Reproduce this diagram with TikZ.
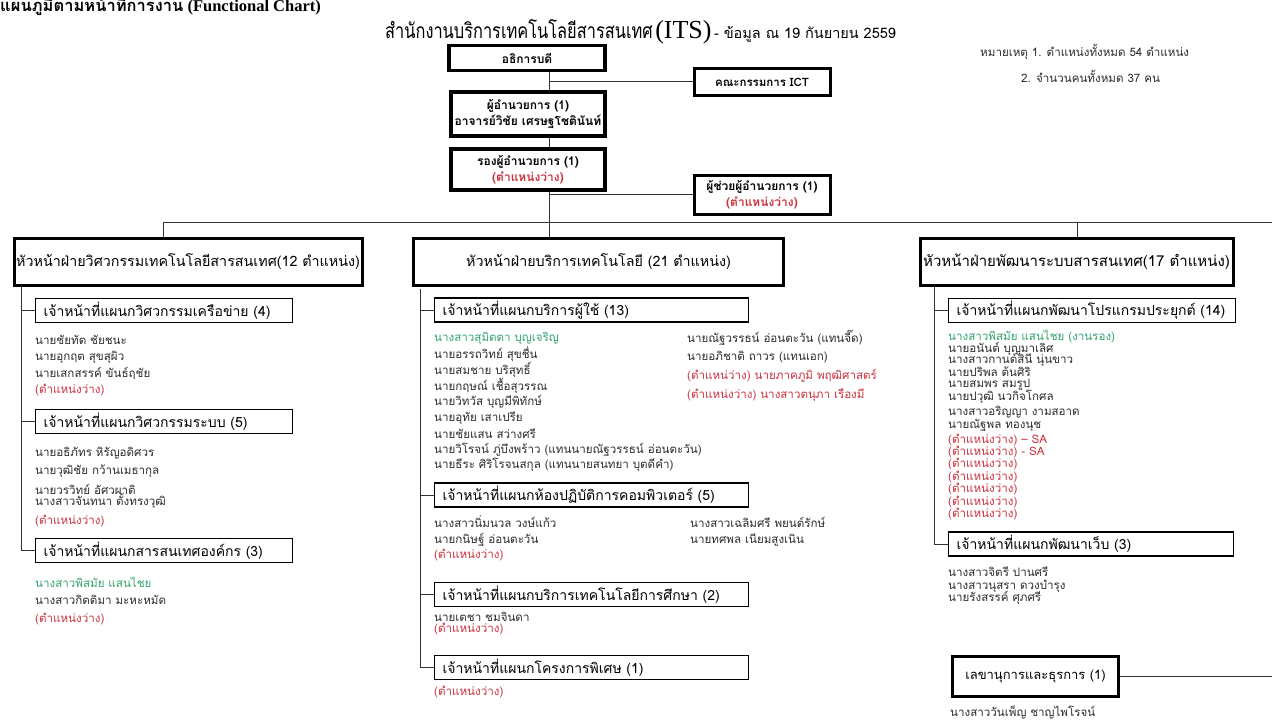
\documentclass[tikz,border=0pt]{standalone}
\usepackage{fontspec}
\setmainfont{Liberation Serif}
\newfontfamily\thaifont[Script=Thai]{Loma}
\newfontfamily\thaicond[Script=Thai,FakeStretch=0.78]{Loma}
\usepackage{xcolor}
\definecolor{vacant}{RGB}{204,51,63}
\definecolor{lead}{RGB}{52,165,110}
\definecolor{ink}{RGB}{45,45,45}

\begin{document}
\begin{tikzpicture}[x=1pt,y=-1pt]
	\tikzstyle{bigbox} = [draw=black, line width=3.5pt, fill=white, inner sep=0pt, align=center, font=\thaifont\bfseries\fontsize{12}{16}\selectfont]
	\tikzstyle{headbox} = [draw=black, line width=3pt, fill=white, inner sep=0pt, minimum height=47, font=\thaifont\fontsize{14.3}{18}\selectfont]
	\tikzstyle{subbox} = [draw=black, line width=1.1pt, fill=white, anchor=west, minimum height=24, inner xsep=8pt, inner ysep=0pt, align=left, font=\thaifont\fontsize{14}{16}\selectfont]
	\tikzstyle{person} = [anchor=west, inner sep=0pt, text=ink, font=\thaifont\fontsize{11.6}{13}\selectfont]
	\tikzstyle{wire} = [draw=black!80, line width=1pt]
	\useasboundingbox[fill=white] (0,0) rectangle (1272,722);
		\node[anchor=west, inner sep=0pt, font=\fontsize{16.5}{18}\selectfont\bfseries] (chart) at (0,5) {{\thaifont แผนภูมิตามหน้าที่การงาน} (Functional Chart)};
		\node[anchor=base west, inner sep=0pt] (its) at (385,39) {{\thaicond\fontsize{21}{26}\selectfont สำนักงานบริการเทคโนโลยีสารสนเทศ} {\fontsize{26}{28}\selectfont (ITS)} {\thaifont\fontsize{14.5}{16}\selectfont - ข้อมูล ณ 19 กันยายน 2559}};
		\node[person] (note1) at (980,52) {หมายเหตุ 1. ตำแหน่งทั้งหมด 54 ตำแหน่ง};
		\node[person] (note2) at (1021,76) {2. จำนวนคนทั้งหมด 37 คน};
	\coordinate (tTop) at (549,72);
	\coordinate (tBot) at (549,237);
	\draw[wire] (tTop) -- (tBot);
		\node[bigbox, minimum width=156, minimum height=25] (rector) at (527,58) {อธิการบดี};
		\node[bigbox, line width=3pt, minimum width=136, minimum height=27, font=\thaifont\bfseries\fontsize{11.5}{13}\selectfont] (ict) at (762,82) {คณะกรรมการ ICT};
		\node[bigbox, minimum width=154, minimum height=44] (dir) at (528,114) {ผู้อำนวยการ (1)\\อาจารย์วิชัย เศรษฐโชตินันท์};
		\node[bigbox, minimum width=154, minimum height=41] (vdir) at (528,169.5) {รองผู้อำนวยการ (1)\\{\color{vacant}(ตำแหน่งว่าง)}};
		\node[bigbox, line width=3pt, minimum width=136, minimum height=39] (adir) at (762,195) {ผู้ช่วยผู้อำนวยการ (1)\\{\color{vacant}(ตำแหน่งว่าง)}};
	\draw[wire] (ict.west) -- (ict.west -| tTop);
	\draw[wire] (adir.west) -- (adir.west -| tTop);
	\coordinate (busL) at (163,223);
	\coordinate (busR) at (1272,223);
	\coordinate (dropC) at (1077,223);
	\draw[wire] (busL) -- (busR);
		\node[headbox, minimum width=348] (hA) at (188,262) {หัวหน้าฝ่ายวิศวกรรมเทคโนโลยีสารสนเทศ(12 ตำแหน่ง)};
		\node[headbox, minimum width=370] (hB) at (598.5,262) {หัวหน้าฝ่ายบริการเทคโนโลยี (21 ตำแหน่ง)};
		\node[headbox, minimum width=313, font=\thaifont\fontsize{15}{18}\selectfont] (hC) at (1076.5,262) {หัวหน้าฝ่ายพัฒนาระบบสารสนเทศ(17 ตำแหน่ง)};
	\draw[wire] (busL) -- (busL |- hA.north);
	\draw[wire] (dropC) -- (dropC |- hC.north);

		\node[subbox, text width=241] (sA1) at (35,310.5) {เจ้าหน้าที่แผนกวิศวกรรมเครือข่าย (4)};
		\node[subbox, text width=241] (sA2) at (35,421.5) {เจ้าหน้าที่แผนกวิศวกรรมระบบ (5)};
		\node[subbox, text width=241] (sA3) at (35,550.5) {เจ้าหน้าที่แผนกสารสนเทศองค์กร (3)};
	\coordinate (vA) at (21,287);
	\draw[wire] (vA) |- (sA3.west);
	\draw[wire] (sA1.west) -- (sA1.west -| vA);
	\draw[wire] (sA2.west) -- (sA2.west -| vA);
	\foreach \yy/\txt [count=\i] in {340/นายชัยทัต ชัยชนะ, 357/นายอุกฤต สุขสุผิว, 373/นายเสกสรรค์ ขันธ์ฤชัย}
		\node[person] (a1n\i) at (35,\yy) {\txt};
		\node[person, text=vacant] (a1v) at (35,390) {(ตำแหน่งว่าง)};
	\foreach \yy/\txt [count=\i] in {453/นายอธิภัทร หิรัญอดิศวร, 471/นายวุฒิชัย กว้านเมธากุล, 489/นายวรวิทย์ อัศวผาติ, 501/นางสาวจันทนา ตั้งทรงวุฒิ}
		\node[person] (a2n\i) at (35,\yy) {\txt};
		\node[person, text=vacant] (a2v) at (35,521) {(ตำแหน่งว่าง)};
		\node[person, text=lead] (a3n1) at (35,582) {นางสาวพิสมัย แสนไชย};
		\node[person] (a3n2) at (35,600) {นางสาวกิตติมา มะหะหมัด};
		\node[person, text=vacant] (a3v) at (35,619) {(ตำแหน่งว่าง)};

		\node[subbox, text width=298] (sB1) at (434,310) {เจ้าหน้าที่แผนกบริการผู้ใช้ (13)};
		\node[subbox, text width=298] (sB2) at (434,495) {เจ้าหน้าที่แผนกห้องปฏิบัติการคอมพิวเตอร์ (5)};
		\node[subbox, text width=298] (sB3) at (434,594.5) {เจ้าหน้าที่แผนกบริการเทคโนโลยีการศึกษา (2)};
		\node[subbox, text width=298] (sB4) at (434,667.5) {เจ้าหน้าที่แผนกโครงการพิเศษ (1)};
	\coordinate (vB) at (420,289);
	\draw[wire] (vB) |- (sB4.west);
	\foreach \s in {sB1,sB2,sB3}
		\draw[wire] (\s.west) -- (\s.west -| vB);
		\node[person, text=lead] (b1n1) at (434,338) {นางสาวสุมิตตา บุญเจริญ};
	\foreach \yy/\txt [count=\i from 2] in {354/นายอรรถวิทย์ สุขชื่น, 370/นายสมชาย บริสุทธิ์, 386/นายกฤษณ์  เชื้อสุวรรณ, 402/นายวิทวัส บุญมีพิทักษ์, 418/นายอุทัย เสาเปรีย, 434/นายชัยแสน สว่างศรี, 450/นายวิโรจน์ ภู่บึงพร้าว (แทนนายณัฐวรรธน์ อ่อนตะวัน), 465/นายธีระ ศิริโรจนสกุล  (แทนนายสนทยา บุตดีคำ)}
		\node[person] (b1n\i) at (434,\yy) {\txt};
		\node[person] (b1r1) at (687,338) {นายณัฐวรรธน์ อ่อนตะวัน (แทนจี๊ด)};
		\node[person] (b1r2) at (687,357) {นายอภิชาติ ถาวร (แทนเอก)};
		\node[person, text=vacant] (b1r3) at (687,376) {(ตำแหน่ว่าง) นายภาคภูมิ พฤฒิศาสตร์};
		\node[person, text=vacant] (b1r4) at (687,395) {(ตำแหน่งว่าง) นางสาวตนุภา เรืองมี};
		\node[person] (b2n1) at (434,522) {นางสาวนิ่มนวล วงษ์แก้ว};
		\node[person] (b2n2) at (434,540) {นายกนิษฐ์ อ่อนตะวัน};
		\node[person, text=vacant] (b2v) at (434,555) {(ตำแหน่งว่าง)};
		\node[person] (b2r1) at (690,522) {นางสาวเฉลิมศรี พยนต์รักษ์};
		\node[person] (b2r2) at (690,540) {นายทศพล เนียมสูงเนิน};
		\node[person] (b3n1) at (434,617) {นายเตชา ชมจินดา};
		\node[person, text=vacant] (b3v) at (434,629) {(ตำแหน่งว่าง)};
		\node[person, text=vacant] (b4v) at (434,692) {(ตำแหน่งว่าง)};

		\node[subbox, text width=271] (sC1) at (948,310.5) {เจ้าหน้าที่แผนกพัฒนาโปรแกรมประยุกต์ (14)};
		\node[subbox, text width=269] (sC2) at (948,544) {เจ้าหน้าที่แผนกพัฒนาเว็บ (3)};
	\coordinate (vC) at (934,287);
	\draw[wire] (vC) |- (sC2.west);
	\draw[wire] (sC1.west) -- (sC1.west -| vC);
		\node[person, text=lead] (c1n1) at (948,337) {นางสาวพิสมัย แสนไชย (งานรอง)};
	\foreach \yy/\txt [count=\i from 2] in {349/นายอนันต์ บุญมาเลิศ, 360/นางสาวกานต์สินี นุ่นขาว, 372/นายปริพล ต้นศิริ, 385/นายสมพร สมรูป, 397/นายปวุฒิ นวกิจโกศล, 412/นางสาวอริญญา งามสอาด, 425/นายณัฐพล ทองนุช}
		\node[person] (c1n\i) at (948,\yy) {\txt};
		\node[person, text=vacant] (c1s1) at (948,440) {(ตำแหน่งว่าง) – SA};
		\node[person, text=vacant] (c1s2) at (948,452) {(ตำแหน่งว่าง) - SA};
	\foreach \yy [count=\i] in {464,477,489,502,514}
		\node[person, text=vacant] (c1v\i) at (948,\yy) {(ตำแหน่งว่าง)};
	\foreach \yy/\txt [count=\i] in {572/นางสาวจิตรี ปานศรี, 586/นางสาวนุสรา ดวงบำรุง, 598/นายรังสรรค์ ศุภศรี}
		\node[person] (c2n\i) at (948,\yy) {\txt};

		\node[bigbox, line width=3pt, minimum width=166, minimum height=40, font=\thaifont\fontsize{13}{15}\selectfont] (sec) at (1035.5,676.5) {เลขานุการและธุรการ (1)};
	\coordinate (secEnd) at (1272,676.5);
	\draw[wire] (sec.east) -- (secEnd);
		\node[person] (secn) at (950,712) {นางสาววันเพ็ญ ชาญไพโรจน์};
	\end{tikzpicture}
\end{document}
